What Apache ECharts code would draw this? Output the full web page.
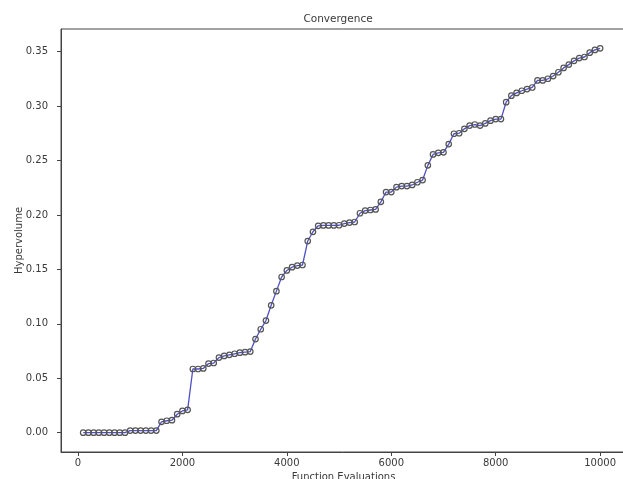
<!DOCTYPE html>
<html>
<head>
<meta charset="utf-8">
<script src="https://cdn.jsdelivr.net/npm/echarts@6/dist/echarts.min.js"></script>
<style>
html,body{margin:0;padding:0;background:#fff;overflow:hidden;}
#chart{width:623px;height:479px;}
</style>
</head>
<body>
<div id="chart"></div>
<script>
const evaluations = [100,200,300,400,500,600,700,800,900,1000,
  1100,1200,1300,1400,1500,1600,1700,1800,1900,2000,
  2100,2200,2300,2400,2500,2600,2700,2800,2900,3000,
  3100,3200,3300,3400,3500,3600,3700,3800,3900,4000,
  4100,4200,4300,4400,4500,4600,4700,4800,4900,5000,
  5100,5200,5300,5400,5500,5600,5700,5800,5900,6000,
  6100,6200,6300,6400,6500,6600,6700,6800,6900,7000,
  7100,7200,7300,7400,7500,7600,7700,7800,7900,8000,
  8100,8200,8300,8400,8500,8600,8700,8800,8900,9000,
  9100,9200,9300,9400,9500,9600,9700,9800,9900,10000];
const hypervolume = [0,0,0,0,0,0,0,0,0,0.002,
  0.002,0.002,0.002,0.002,0.002,0.010,0.011,0.0115,0.017,0.020,
  0.021,0.0585,0.0585,0.059,0.0635,0.064,0.069,0.0705,0.0715,0.0725,
  0.0735,0.074,0.0745,0.086,0.095,0.103,0.117,0.130,0.143,0.149,
  0.152,0.1535,0.154,0.176,0.1845,0.190,0.1903,0.1903,0.1903,0.1905,
  0.192,0.193,0.1935,0.2015,0.204,0.2045,0.205,0.212,0.221,0.221,
  0.2255,0.2265,0.2265,0.2275,0.230,0.232,0.2455,0.2555,0.257,0.2575,
  0.265,0.2745,0.275,0.279,0.282,0.283,0.282,0.284,0.2865,0.288,
  0.288,0.3035,0.3095,0.312,0.314,0.3155,0.317,0.3235,0.3235,0.325,
  0.3275,0.331,0.335,0.338,0.3415,0.344,0.345,0.349,0.3515,0.353];
const xTicks = [0,2000,4000,6000,8000,10000];
const yTicks = [0,0.05,0.10,0.15,0.20,0.25,0.30,0.35];

const textColor = '#3a3a3a';
const font = 'DejaVu Sans';
const chart = echarts.init(document.getElementById('chart'));
chart.setOption({
  animation: false,
  backgroundColor: '#fff',
  title: {
    text: 'Convergence',
    left: 333, top: 9, textAlign: 'center',
    textStyle: {fontFamily: font, fontSize: 10.5, fontWeight: 'normal', color: textColor}
  },
  grid: {left: 61, width: 565, top: 29, height: 423, containLabel: false, outerBoundsMode: 'none',
    show: true, borderColor: '#444', borderWidth: 1, backgroundColor: 'transparent'},
  xAxis: {
    type: 'value', min: -325, max: 10495,
    name: 'Function Evaluations', nameLocation: 'middle', nameGap: 20, nameMoveOverlap: false,
    nameTextStyle: {fontFamily: font, fontSize: 10, color: textColor},
    axisLine: {show: true, onZero: false, lineStyle: {color: '#444', width: 1}},
    axisTick: {show: true, length: 4, customValues: xTicks, lineStyle: {color: '#444'}},
    axisLabel: {customValues: xTicks, margin: 6, fontFamily: font, fontSize: 10, color: textColor, formatter: v => String(v)},
    splitLine: {show: false}
  },
  yAxis: {
    type: 'value', min: -0.0177, max: 0.3707,
    name: 'Hypervolume', nameLocation: 'middle', nameGap: 37, nameMoveOverlap: false,
    nameTextStyle: {fontFamily: font, fontSize: 10, color: textColor},
    axisLine: {show: true, onZero: false, lineStyle: {color: '#444', width: 1}},
    axisTick: {show: true, length: 4, customValues: yTicks, lineStyle: {color: '#444'}},
    axisLabel: {customValues: yTicks, margin: 13, fontFamily: font, fontSize: 10, color: textColor, formatter: v => v.toFixed(2)},
    splitLine: {show: false}
  },
  series: [{
    type: 'line',
    data: evaluations.map((e, i) => [e, hypervolume[i]]),
    symbol: 'circle', symbolSize: 5.5, showAllSymbol: true,
    lineStyle: {color: '#4f4fc6', width: 1.3},
    itemStyle: {color: 'rgba(255,255,255,0)', borderColor: '#555', borderWidth: 1.2},
    emphasis: {disabled: true}
  }]
});
</script>
</body>
</html>
